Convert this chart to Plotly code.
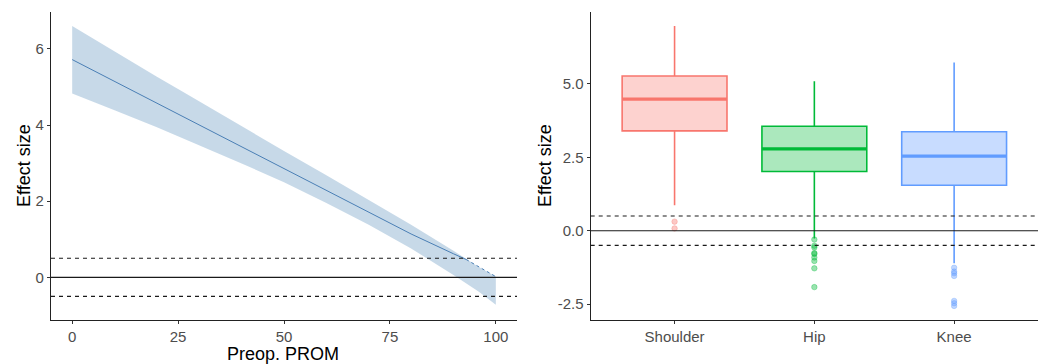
import plotly.graph_objects as go

# ---------------- data: left panel (marginal effect vs. preop PROM) ----------------
prom_x = [0, 10, 20, 25, 30, 40, 50, 60, 70, 75, 80, 90, 93]
effect_mid = [5.72, 5.15, 4.58, 4.29, 4.00, 3.43, 2.86, 2.29, 1.72, 1.43, 1.14, 0.62, 0.47]
effect_upper = [6.60, 5.93, 5.27, 4.95, 4.62, 3.97, 3.32, 2.68, 2.03, 1.71, 1.38, 0.70, 0.48]
effect_lower = [4.83, 4.39, 3.94, 3.72, 3.47, 2.99, 2.50, 1.95, 1.38, 1.08, 0.76, 0.06, -0.16]
tail_x = [93, 96, 100]
tail_mid = [0.47, 0.27, 0.02]
tail_lower = [-0.16, -0.38, -0.72]

left_xticks = [0, 25, 50, 75, 100]
left_yticks = [0, 2, 4, 6]

# ---------------- data: right panel (boxplots by joint) ----------------
joints = ["Shoulder", "Hip", "Knee"]
q1 = [3.40, 2.02, 1.55]
median = [4.48, 2.79, 2.54]
q3 = [5.27, 3.56, 3.37]
lower_whisker = [0.87, -0.26, -1.11]
upper_whisker = [6.97, 5.09, 5.73]
outliers = {
    "Shoulder": [0.31, 0.08],
    "Hip": [-0.30, -0.51, -0.57, -0.76, -0.79, -0.91, -1.03, -1.28, -1.92],
    "Knee": [-1.26, -1.39, -1.45, -1.54, -2.39, -2.47, -2.56],
}
right_yticks = [-2.5, 0.0, 2.5, 5.0]
right_yticklabels = ["-2.5", "0.0", "2.5", "5.0"]

ref_lines = [-0.5, 0.0, 0.5]

colors = ["#F8766D", "#00BA38", "#619CFF"]
fills = ["rgba(248,118,109,0.33)", "rgba(0,186,56,0.33)", "rgba(97,156,255,0.35)"]
pt_cols = ["rgba(248,118,109,0.4)", "rgba(0,186,56,0.4)", "rgba(97,156,255,0.4)"]

W, H = 1052, 364
FONT = "Liberation Sans, Arial, sans-serif"

fig = go.Figure()

# ribbon
rib_x = prom_x + tail_x[1:]
rib_up = effect_upper + tail_mid[1:]
rib_lo = effect_lower + tail_lower[1:]
fig.add_trace(go.Scatter(x=rib_x + rib_x[::-1], y=rib_up + rib_lo[::-1], fill="toself",
                         fillcolor="rgba(70,130,180,0.3)", line=dict(width=0),
                         mode="lines", hoverinfo="skip", showlegend=False, xaxis="x", yaxis="y"))
fig.add_trace(go.Scatter(x=prom_x, y=effect_mid, mode="lines",
                         line=dict(color="#4a7fb5", width=1), showlegend=False, xaxis="x", yaxis="y"))
fig.add_trace(go.Scatter(x=tail_x, y=tail_mid, mode="lines",
                         line=dict(color="#4a7fb5", width=1, dash="dot"), showlegend=False, xaxis="x", yaxis="y"))

# boxes
for i, j in enumerate(joints):
    fig.add_trace(go.Box(x=[i + 1], q1=[q1[i]], median=[median[i]], q3=[q3[i]],
                         lowerfence=[lower_whisker[i]], upperfence=[upper_whisker[i]],
                         width=0.75, whiskerwidth=0, boxpoints=False,
                         fillcolor=fills[i], line=dict(color=colors[i], width=1.6),
                         showlegend=False, xaxis="x2", yaxis="y2"))
    fig.add_trace(go.Scatter(x=[i + 1 - 0.375, i + 1 + 0.375], y=[median[i], median[i]], mode="lines",
                             line=dict(color=colors[i], width=3.2), showlegend=False,
                             xaxis="x2", yaxis="y2"))
    ys = outliers[j]
    fig.add_trace(go.Scatter(x=[i + 1] * len(ys), y=ys, mode="markers",
                             marker=dict(color=pt_cols[i], size=5.5,
                                         line=dict(width=0.8, color=pt_cols[i])),
                             showlegend=False, xaxis="x2", yaxis="y2"))

# reference lines
shapes = []
for xr, yr in (("x domain", "y"), ("x2 domain", "y2")):
    for v in ref_lines:
        shapes.append(dict(type="line", xref=xr, yref=yr, x0=0, x1=1, y0=v, y1=v,
                           line=dict(color="#1a1a1a", width=1.1,
                                     dash="solid" if v == 0 else "4px,4px")))

ydom = [1 - 320 / H, 1 - 12 / H]
axis_common = dict(showline=True, linecolor="#222222", linewidth=1.1, ticks="outside",
                   ticklen=3, tickwidth=1, tickcolor="#333333", showgrid=False, zeroline=False,
                   tickfont=dict(family=FONT, size=15, color="#4D4D4D"))

fig.update_layout(
    width=W, height=H, margin=dict(l=0, r=0, t=0, b=0),
    paper_bgcolor="white", plot_bgcolor="white", showlegend=False,
    xaxis=dict(domain=[51 / W, 517 / W], range=[-5, 105], tickvals=left_xticks,
               anchor="y", **axis_common),
    yaxis=dict(domain=ydom, range=[-1.12, 6.97], tickvals=left_yticks, anchor="x", **axis_common),
    xaxis2=dict(domain=[590.7 / W, 1038 / W], range=[0.4, 3.6], tickvals=[1, 2, 3],
                ticktext=joints, anchor="y2", **axis_common),
    yaxis2=dict(domain=ydom, range=[-3.04, 7.45], tickvals=right_yticks,
                ticktext=right_yticklabels, anchor="x2", **axis_common),
    shapes=shapes,
    annotations=[
        dict(text="Effect size", x=24 / W, y=1 - 166 / H, xref="paper", yref="paper",
             textangle=-90, showarrow=False, xanchor="center", yanchor="middle",
             font=dict(family=FONT, size=18, color="black")),
        dict(text="Effect size", x=545 / W, y=1 - 166 / H, xref="paper", yref="paper",
             textangle=-90, showarrow=False, xanchor="center", yanchor="middle",
             font=dict(family=FONT, size=18, color="black")),
        dict(text="Preop. PROM", x=283 / W, y=1 - 354 / H, xref="paper", yref="paper",
             showarrow=False, xanchor="center", yanchor="middle",
             font=dict(family=FONT, size=18, color="black")),
    ],
)

fig.write_html("out.html", config={"displayModeBar": False},
               post_script="document.body.style.margin='0';document.body.style.overflow='hidden';")
